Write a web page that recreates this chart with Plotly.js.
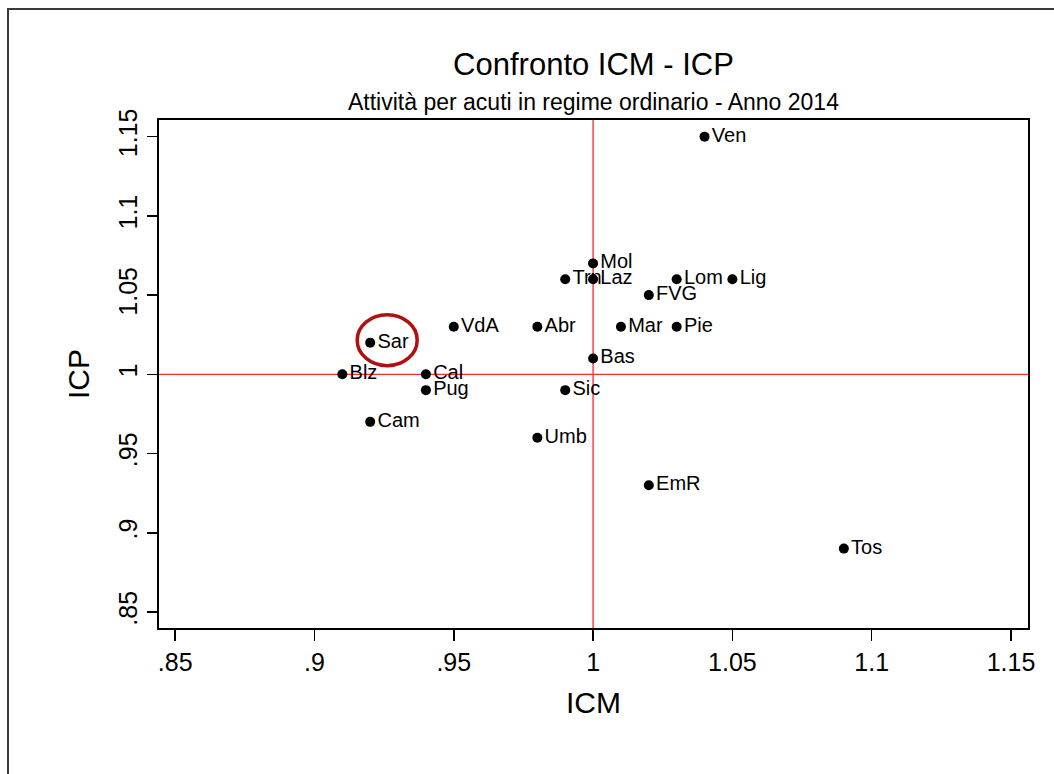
<!DOCTYPE html>
<html>
<head>
<meta charset="utf-8">
<script src="https://cdn.plot.ly/plotly-3.0.1.min.js"></script>
<style>
  html, body { margin: 0; padding: 0; background: #fff; }
  #wrap { position: relative; width: 1054px; height: 774px; overflow: hidden; }
  #chart { width: 1054px; height: 774px; }
  #frame { position: absolute; left: 7px; top: 8px; width: 1100px; height: 800px;
           border-left: 2px solid #3a3a3a; border-top: 2px solid #3a3a3a; pointer-events: none; }
</style>
</head>
<body>
<div id="wrap">
  <div id="chart"></div>
  <div id="frame"></div>
</div>
<script>
// Regions (labels), ICM (x) and ICP (y)
const regions = ["Ven","Mol","Trn","Laz","Lom","Lig","FVG","VdA","Abr","Mar","Pie","Sar","Bas","Blz","Cal","Pug","Sic","Cam","Umb","EmR","Tos"];
const icm     = [1.04, 1.00, 0.99, 1.00, 1.03, 1.05, 1.02, 0.95, 0.98, 1.01, 1.03, 0.92, 1.00, 0.91, 0.94, 0.94, 0.99, 0.92, 0.98, 1.02, 1.09];
const icp     = [1.15, 1.07, 1.06, 1.06, 1.06, 1.06, 1.05, 1.03, 1.03, 1.03, 1.03, 1.02, 1.01, 1.00, 1.00, 0.99, 0.99, 0.97, 0.96, 0.93, 0.89];

const xTickVals = [0.85, 0.9, 0.95, 1, 1.05, 1.1, 1.15];
const xTickText = [".85", ".9", ".95", "1", "1.05", "1.1", "1.15"];
const yTickVals = [0.85, 0.9, 0.95, 1, 1.05, 1.1, 1.15];
const yTickText = [".85", ".9", ".95", "1", "1.05", "1.1", "1.15"];

const refX = 1;   // ICM reference
const refY = 1;   // ICP reference
const highlight = "Sar";

const titleText = "Confronto ICM - ICP";
const subtitleText = "Attività per acuti in regime ordinario - Anno 2014";

const FONT = "Arial, 'Liberation Sans', Helvetica, sans-serif";

const trace = {
  type: "scatter",
  mode: "markers+text",
  x: icm,
  y: icp,
  text: regions,
  textposition: "middle right",
  textfont: { family: FONT, size: 20, color: "#000" },
  marker: { color: "#000", size: 10, symbol: "circle" },
  hoverinfo: "x+y+text",
  cliponaxis: false
};

const hi = regions.indexOf(highlight);

const layout = {
  width: 1054,
  height: 774,
  margin: { l: 159, r: 26, t: 120, b: 146 },
  paper_bgcolor: "#fff",
  plot_bgcolor: "#fff",
  showlegend: false,
  font: { family: FONT, color: "#000" },
  title: {
    text: titleText,
    font: { family: FONT, size: 31, color: "#000" },
    x: 0.5, xref: "paper", xanchor: "center",
    y: 1 - 64 / 774, yref: "container", yanchor: "middle"
  },
  annotations: [{
    text: subtitleText,
    xref: "paper", yref: "paper",
    x: 0.5, y: 1 + 18 / 508,
    xanchor: "center", yanchor: "middle",
    showarrow: false,
    font: { family: FONT, size: 23, color: "#000" }
  }],
  xaxis: {
    range: [0.8442, 1.1561],
    tickvals: xTickVals,
    ticktext: xTickText,
    ticks: "outside",
    ticklen: 11,
    tickwidth: 1.5,
    tickcolor: "#000",
    tickfont: { family: FONT, size: 25, color: "#000" },
    showgrid: false,
    zeroline: false,
    showline: true,
    linecolor: "#000",
    linewidth: 2,
    mirror: true,
    title: { text: "ICM", font: { family: FONT, size: 30, color: "#000" }, standoff: 17 }
  },
  yaxis: {
    range: [0.8399, 1.1605],
    tickvals: yTickVals,
    ticktext: yTickText,
    tickangle: -90,
    ticks: "outside",
    ticklen: 10,
    tickwidth: 1.5,
    tickcolor: "#000",
    tickfont: { family: FONT, size: 25, color: "#000" },
    showgrid: false,
    zeroline: false,
    showline: true,
    linecolor: "#000",
    linewidth: 2,
    mirror: true,
    title: { text: "ICP", font: { family: FONT, size: 30, color: "#000" }, standoff: 16 }
  },
  shapes: [
    { type: "line", xref: "x", yref: "paper", x0: refX, x1: refX, y0: 0, y1: 1,
      line: { color: "#ff2a2a", width: 1.3 }, layer: "below" },
    { type: "line", xref: "paper", yref: "y", x0: 0, x1: 1, y0: refY, y1: refY,
      line: { color: "#ff2a2a", width: 1.3 }, layer: "below" },
    { type: "circle", xref: "x", yref: "y",
      xsizemode: "pixel", ysizemode: "pixel",
      xanchor: icm[hi], yanchor: icp[hi],
      x0: -13, x1: 47, y0: -23, y1: 28,
      line: { color: "#b01010", width: 3.5 } }
  ]
};

Plotly.newPlot("chart", [trace], layout, { staticPlot: true, displayModeBar: false });
</script>
</body>
</html>
